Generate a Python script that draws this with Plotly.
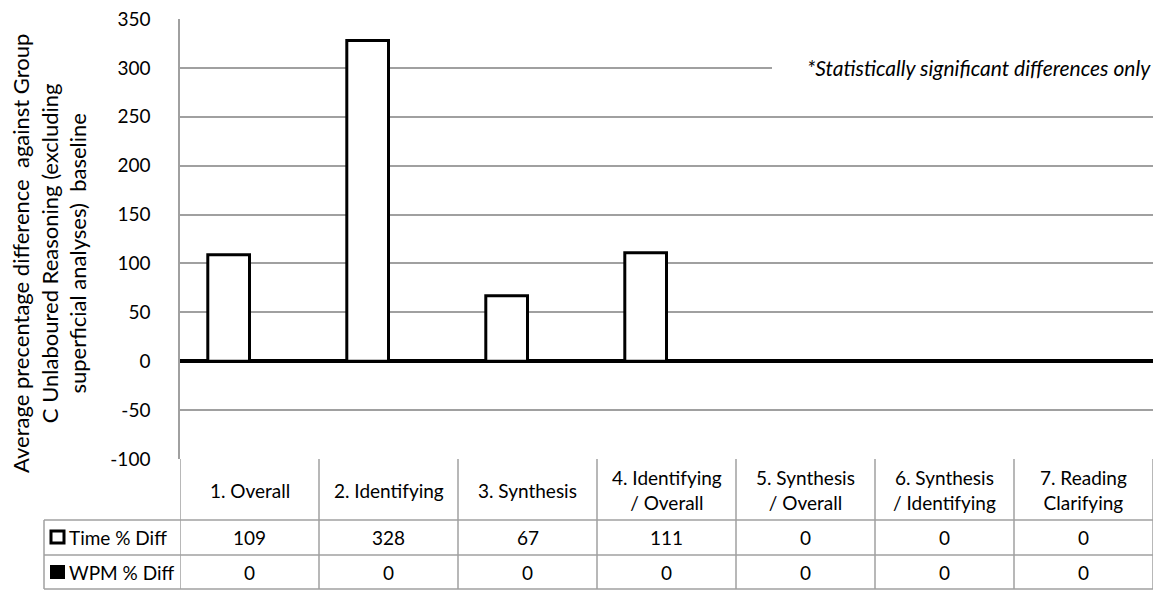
import plotly.graph_objects as go

categories = ["1. Overall", "2. Identifying", "3. Synthesis", "4. Identifying<br>/ Overall",
              "5. Synthesis<br>/ Overall", "6. Synthesis<br>/ Identifying", "7. Reading<br>Clarifying"]
time_diff = [109, 328, 67, 111, 0, 0, 0]
wpm_diff = [0, 0, 0, 0, 0, 0, 0]
series_names = ["Time % Diff", "WPM % Diff"]
y_tick_vals = [-100, -50, 0, 50, 100, 150, 200, 250, 300, 350]
y_tick_text = ["-100", "-50", "0", "50", "100", "150", "200", "250", "300", "350"]
y_title = "Average precentage difference  against Group<br>C Unlaboured Reasoning (excluding<br>superficial analyses)  baseline"
note = "*Statistically significant differences only"

W, H = 1160, 590
FONT = "Lato"

def px(x):
    return x / W

def py(y):
    return 1 - y / H

x_idx = list(range(len(categories)))

fig = go.Figure()
fig.add_trace(go.Bar(x=x_idx, y=time_diff, name=series_names[0],
                     marker=dict(color="white", line=dict(color="black", width=3))))
fig.add_trace(go.Bar(x=x_idx, y=wpm_diff, name=series_names[1],
                     marker=dict(color="black", line=dict(color="black", width=0))))

plot_l, plot_r, plot_t, plot_b = 180, 1153, 19, 459
grid = "#a0a0a0"

fig.update_layout(
    width=W, height=H, margin=dict(l=0, r=0, t=0, b=0, autoexpand=False),
    paper_bgcolor="white", plot_bgcolor="white",
    barmode="group", bargap=0.4, bargroupgap=0,
    showlegend=False,
    font=dict(family=FONT, color="black", size=19),
    xaxis=dict(domain=[px(plot_l), px(plot_r)], range=[-0.5, len(categories) - 0.5],
               showticklabels=False, showgrid=False, zeroline=False, showline=False,
               fixedrange=True, automargin=False),
    yaxis=dict(domain=[py(plot_b), py(plot_t)], range=[-100, 350],
               tickmode="array", tickvals=y_tick_vals, ticktext=y_tick_text,
               showgrid=True, gridcolor=grid, gridwidth=1.5,
               zeroline=True, zerolinecolor="black", zerolinewidth=3.5,
               showline=True, linecolor=grid, linewidth=1.5, automargin=False,
               ticks="", ticklabelstandoff=24, tickfont=dict(size=19, family=FONT)),
)

shapes = []
# white mask behind note (covers the gridline under the text box)
shapes.append(dict(type="rect", xref="paper", yref="y", x0=px(772), x1=1, y0=294, y1=306,
                   fillcolor="white", line=dict(width=0), layer="above"))
line_style = dict(color=grid, width=1.5)
# table vertical lines at category boundaries
for i in range(len(categories) + 1):
    shapes.append(dict(type="line", xref="x", yref="paper", x0=i - 0.5, x1=i - 0.5,
                       y0=py(589), y1=py(plot_b), line=line_style))
# left edge of legend column
shapes.append(dict(type="line", xref="paper", yref="paper", x0=px(44), x1=px(44),
                   y0=py(589), y1=py(520), line=line_style))
# horizontal lines
for yy in (520, 555, 589):
    shapes.append(dict(type="line", xref="paper", yref="paper", x0=px(44), x1=px(plot_r),
                       y0=py(yy), y1=py(yy), line=line_style))
# legend keys
shapes.append(dict(type="rect", xref="paper", yref="paper", x0=px(51), x1=px(64),
                   y0=py(543), y1=py(531), fillcolor="white", line=dict(color="black", width=3)))
shapes.append(dict(type="rect", xref="paper", yref="paper", x0=px(50), x1=px(65),
                   y0=py(579), y1=py(565), fillcolor="black", line=dict(color="black", width=0)))

ann = []
ann.append(dict(text=y_title, xref="paper", yref="paper", x=px(49), y=py(254),
                textangle=-90, showarrow=False, font=dict(size=22, family=FONT),
                xanchor="center", yanchor="middle", align="center"))
ann.append(dict(text="<i>" + note + "</i>", xref="paper", yref="y", x=px(1153), y=300,
                xanchor="right", yanchor="middle", showarrow=False,
                font=dict(size=21, family=FONT)))
for i, c in enumerate(categories):
    ann.append(dict(text=c, xref="x", yref="paper", x=i, y=py(490), showarrow=False,
                    xanchor="center", yanchor="middle", font=dict(size=19, family=FONT)))
    ann.append(dict(text=str(time_diff[i]), xref="x", yref="paper", x=i, y=py(537),
                    showarrow=False, xanchor="center", yanchor="middle",
                    font=dict(size=19, family=FONT)))
    ann.append(dict(text=str(wpm_diff[i]), xref="x", yref="paper", x=i, y=py(572),
                    showarrow=False, xanchor="center", yanchor="middle",
                    font=dict(size=19, family=FONT)))
ann.append(dict(text=series_names[0], xref="paper", yref="paper", x=px(67), y=py(537),
                xanchor="left", yanchor="middle", showarrow=False, font=dict(size=19, family=FONT)))
ann.append(dict(text=series_names[1], xref="paper", yref="paper", x=px(67), y=py(572),
                xanchor="left", yanchor="middle", showarrow=False, font=dict(size=19, family=FONT)))

fig.update_layout(shapes=shapes, annotations=ann)
fig.write_html("out.html", config={"displayModeBar": False},
               post_script="document.body.style.margin='0';document.body.style.overflow='hidden';")
